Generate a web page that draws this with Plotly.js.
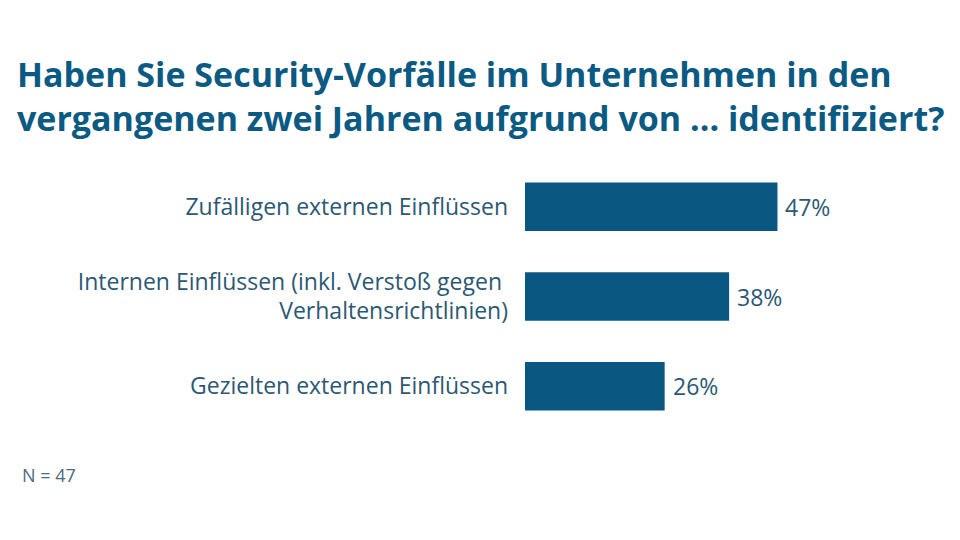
<!DOCTYPE html>
<html>
<head>
<meta charset="utf-8">
<script src="https://cdn.plot.ly/plotly-3.0.1.min.js"></script>
<style>
  html, body { margin: 0; padding: 0; background: #ffffff; }
  #chart { width: 960px; height: 540px; }
</style>
</head>
<body>
<div id="chart"></div>
<script>
// Survey answers: source of identified security incidents (share of companies, %)
const categories = [
  'Zufälligen externen Einflüssen',
  'Internen Einflüssen (inkl. Verstoß gegen <br>Verhaltensrichtlinien)',
  'Gezielten externen Einflüssen'
];
const shares = [47, 38, 26];
const valueLabels = ['47%', '38%', '26%'];
const sampleNote = 'N = 47';
const chartTitle = 'Haben Sie Security-Vorfälle im Unternehmen in den<br>vergangenen zwei Jahren aufgrund von ... identifiziert?';

const barColor = '#0a5882';
const textColor = '#2b5874';
const fontFamily = '"Open Sans", Lato, sans-serif';

const trace = {
  type: 'bar',
  orientation: 'h',
  x: shares,
  y: categories,
  marker: { color: barColor },
  width: 0.54,
  hoverinfo: 'skip'
};

// value labels just to the right of each bar end
const valueAnnotations = shares.map((v, i) => ({
  x: v,
  y: categories[i],
  xref: 'x', yref: 'y',
  text: valueLabels[i],
  xanchor: 'left', yanchor: 'middle',
  xshift: 6,
  showarrow: false,
  font: { family: fontFamily, size: 23, color: textColor }
}));

const layout = {
  width: 960,
  height: 540,
  paper_bgcolor: '#ffffff',
  plot_bgcolor: '#ffffff',
  margin: { l: 525, r: 59, t: 162, b: 109 },
  showlegend: false,
  title: {
    text: chartTitle,
    font: { family: fontFamily, size: 34, color: '#0b5a83', weight: 'bold' },
    x: 17 / 960,
    xanchor: 'left',
    xref: 'container',
    y: 1 - 87 / 540,
    yanchor: 'top',
    yref: 'container'
  },
  xaxis: {
    range: [0, 70],
    visible: false,
    fixedrange: true
  },
  yaxis: {
    type: 'category',
    autorange: 'reversed',
    showgrid: false,
    zeroline: false,
    showline: false,
    ticks: '',
    ticklabelstandoff: 16,
    tickfont: { family: fontFamily, size: 23, color: textColor },
    fixedrange: true
  },
  annotations: valueAnnotations.concat([{
    text: sampleNote,
    xref: 'paper', yref: 'paper',
    x: (20 - 525) / 376,
    y: -(475 - 431) / 269,
    xanchor: 'left', yanchor: 'middle',
    showarrow: false,
    font: { family: fontFamily, size: 18, color: '#4d6a80' }
  }])
};

Plotly.newPlot('chart', [trace], layout, { displayModeBar: false, staticPlot: true });
</script>
</body>
</html>
